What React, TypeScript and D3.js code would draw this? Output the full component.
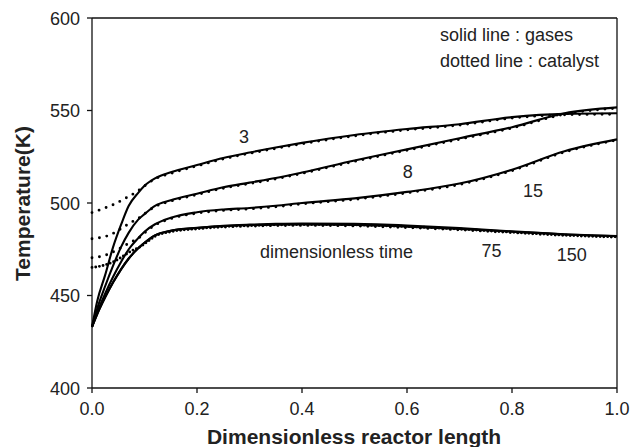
import React from "react";
import * as d3 from "d3";

// x positions (dimensionless reactor length)
const gasX = [0, 0.01, 0.025, 0.04, 0.055, 0.07, 0.088, 0.1, 0.12, 0.15, 0.2, 0.25, 0.3, 0.35, 0.4, 0.5, 0.6, 0.7, 0.8, 0.9, 1.0];
const catX = [0, 0.015, 0.03, 0.045, 0.06, 0.075, 0.09, 0.105, 0.12, 0.15, 0.2, 0.25, 0.3, 0.35, 0.4, 0.5, 0.6, 0.7, 0.8, 0.9, 1.0];

// gas temperatures (solid lines)
const gas3 = [433, 447, 461, 476, 488, 498.5, 505.5, 509.3, 513.3, 516.6, 520.5, 524.3, 527.3, 530, 532.5, 536.8, 540, 542.6, 546.4, 548.2, 548.5];
const gas8 = [433, 443, 455, 466, 476, 484, 491, 494, 498.5, 501.5, 505, 508.5, 511, 513.5, 516.5, 523, 529, 535, 541, 548.5, 551.7];
const gas15 = [433, 441, 451, 460, 468, 475, 481, 484.5, 488.5, 492, 495, 496.5, 497.3, 498.5, 500, 502.5, 506, 510.5, 518, 528, 534.4];
const gas75 = [433, 440, 449, 457, 464, 470, 475.5, 478.5, 482.5, 485, 486.5, 487.5, 488, 488.3, 488.4, 488.1, 487.2, 486, 484.5, 483, 482.2];
const gas150 = [433, 440, 449, 457, 464, 470, 475.5, 478.5, 482.5, 485, 486.6, 487.7, 488.3, 488.7, 488.9, 488.7, 487.8, 486.4, 484.7, 483.1, 482.0];

// catalyst temperatures (dotted lines)
const cat3 = [494.8, 496.3, 497.9, 499.7, 502.0, 504.3, 507.0, 510.3, 513.0, 516.0, 520.0, 523.8, 526.8, 529.5, 532.0, 536.3, 539.5, 542.1, 545.9, 547.7, 548.0];
const cat8 = [480.7, 481.3, 482.3, 484.3, 487.0, 489.6, 492.0, 495.2, 498.0, 501.0, 504.5, 508.0, 510.5, 513.0, 516.0, 522.5, 528.5, 534.5, 540.5, 548.0, 551.3];
const cat15 = [470.4, 471.0, 472.2, 474.2, 476.6, 478.9, 481.3, 485.0, 488.0, 491.5, 494.5, 496.0, 496.8, 498.0, 499.5, 502.0, 505.5, 510.0, 517.5, 527.5, 534.0];
const cat75 = [465.2, 465.8, 467.0, 468.8, 471.4, 474.1, 476.0, 479.0, 482.0, 484.5, 486.0, 487.0, 487.5, 487.8, 487.9, 487.6, 486.7, 485.5, 484.0, 482.5, 481.7];
const cat150 = [465.2, 465.8, 467.0, 468.8, 471.4, 474.1, 476.0, 479.0, 482.0, 484.5, 486.1, 487.2, 487.8, 488.2, 488.4, 488.2, 487.3, 485.9, 484.2, 482.6, 481.5];

const gasSeries = [gas3, gas8, gas15, gas75, gas150];
const catSeries = [cat3, cat8, cat15, cat75, cat150];

const xTicks = [0, 0.2, 0.4, 0.6, 0.8, 1.0];
const yTicks = [400, 450, 500, 550, 600];

// label anchors (left edge, baseline) in data units
const curveLabels = [
  { text: "3", x: 0.28, y: 532.4 },
  { text: "8", x: 0.592, y: 513.5 },
  { text: "15", x: 0.821, y: 503.2 },
  { text: "dimensionless time", x: 0.32, y: 470.3 },
  { text: "75", x: 0.742, y: 470.8 },
  { text: "150", x: 0.885, y: 468.8 },
];
const legendLines = ["solid line : gases", "dotted line : catalyst"];
const xTitle = "Dimensionless reactor length";
const yTitle = "Temperature(K)";

export default function App() {
  const W = 630, H = 447;
  const left = 92, right = 617, top = 18, bottom = 388;
  const x = d3.scaleLinear().domain([0, 1]).range([left, right]);
  const y = d3.scaleLinear().domain([400, 600]).range([bottom, top]);
  const font = "'Liberation Sans', Arial, sans-serif";
  const txt = "#222";

  const lineGen = (xs: number[]) =>
    d3.line<number>()
      .x((_, i) => x(xs[i]))
      .y((v) => y(v))
      .curve(d3.curveMonotoneX);

  return (
    <svg width={W} height={H} style={{ position: "absolute", left: 0, top: 0, background: "#fff" }}>
      {/* frame */}
      <line x1={left} y1={top} x2={right} y2={top} stroke="#111" strokeWidth={1.3} />
      <line x1={right} y1={top} x2={right} y2={bottom} stroke="#111" strokeWidth={1.3} />
      <line x1={left} y1={top} x2={left} y2={bottom} stroke="#111" strokeWidth={1.3} />
      <line x1={left} y1={bottom} x2={right} y2={bottom} stroke="#111" strokeWidth={1.3} />

      {yTicks.map((t) => (
        <g key={"y" + t}>
          <line x1={left - 5} x2={left} y1={y(t)} y2={y(t)} stroke="#111" strokeWidth={1.3} />
          <text x={left - 12} y={y(t) + 6.5} textAnchor="end" fontFamily={font} fontSize={18} fill={txt}>
            {t}
          </text>
        </g>
      ))}
      {xTicks.map((t) => (
        <g key={"x" + t}>
          <line x1={x(t)} x2={x(t)} y1={bottom} y2={bottom + 5} stroke="#111" strokeWidth={1.3} />
          <text x={x(t)} y={415} textAnchor="middle" fontFamily={font} fontSize={18} fill={txt}>
            {d3.format(".1f")(t)}
          </text>
        </g>
      ))}

      {/* gas lines */}
      {gasSeries.map((s, i) => (
        <path key={"g" + i} d={lineGen(gasX)(s) || ""} fill="none" stroke="#000" strokeWidth={2.1} />
      ))}
      {/* catalyst dotted lines */}
      {catSeries.map((s, i) => (
        <path
          key={"c" + i}
          d={lineGen(catX)(s) || ""}
          fill="none"
          stroke="#000"
          strokeWidth={2.9}
          strokeLinecap="round"
          strokeDasharray="0 7.5"
          strokeDashoffset={i === 4 ? 3.75 : 0}
        />
      ))}

      {curveLabels.map((l) => (
        <text key={l.text} x={x(l.x)} y={y(l.y)} textAnchor="start" fontFamily={font} fontSize={18} fill={txt}>
          {l.text}
        </text>
      ))}

      {legendLines.map((t, i) => (
        <text key={t} x={440} y={40.5 + i * 26.5} fontFamily={font} fontSize={18} fill={txt}>
          {t}
        </text>
      ))}

      <text x={354} y={444} textAnchor="middle" fontFamily={font} fontSize={21} fontWeight="bold" fill={txt}>
        {xTitle}
      </text>
      <text
        transform={`translate(30,${203.5}) rotate(-90)`}
        textAnchor="middle"
        fontFamily={font}
        fontSize={21}
        fontWeight="bold"
        fill={txt}
      >
        {yTitle}
      </text>
    </svg>
  );
}
